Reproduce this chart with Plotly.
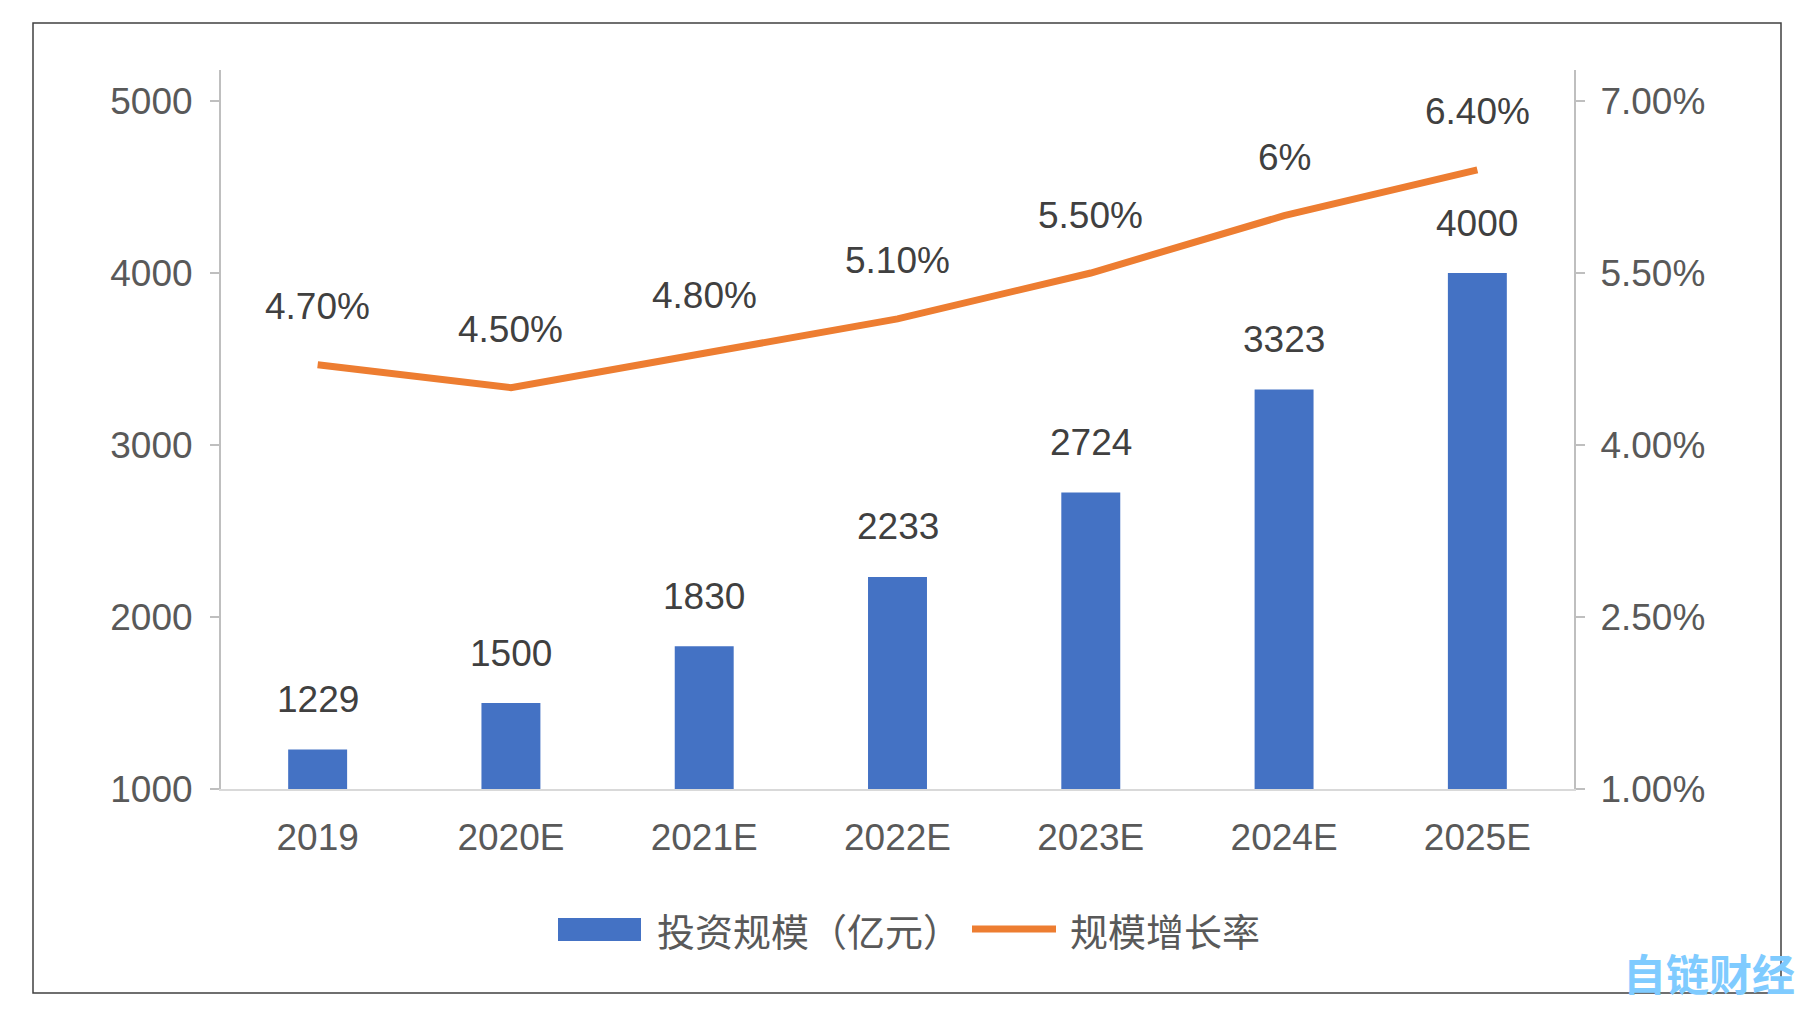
import plotly.graph_objects as go

categories = ["2019", "2020E", "2021E", "2022E", "2023E", "2024E", "2025E"]
invest = [1229, 1500, 1830, 2233, 2724, 3323, 4000]
growth = [0.047, 0.045, 0.048, 0.051, 0.055, 0.060, 0.064]
growth_labels = ["4.70%", "4.50%", "4.80%", "5.10%", "5.50%", "6%", "6.40%"]
left_ticks = [1000, 2000, 3000, 4000, 5000]
right_ticks = [0.01, 0.025, 0.04, 0.055, 0.07]
right_tick_text = ["1.00%", "2.50%", "4.00%", "5.50%", "7.00%"]
legend_names = ["投资规模（亿元）", "规模增长率"]

BLUE = "#4472C4"
ORANGE = "#ED7D31"
NUM_FONT = "Liberation Sans, Arial, sans-serif"
CJK_FONT = "Noto Sans CJK SC, sans-serif"

# page has an 8px body margin; work in page coordinates and convert
OFF = 8
W, H = 1792, 996
PL, PR, PT, PB = 221, 1574, 70, 789          # plot area in page px
L, T = PL - OFF, PT - OFF
R = W - (PR - OFF)
B = H - (PB - OFF)
pw, ph = W - L - R, H - T - B


def px(x):
    return (x - OFF - L) / pw


def py(y):
    return (H - B - (y - OFF)) / ph


fig = go.Figure()
fig.add_trace(go.Bar(x=categories, y=invest, marker=dict(color=BLUE, line=dict(width=0)),
                     width=0.305, name=legend_names[0], yaxis="y"))
fig.add_trace(go.Scatter(x=categories, y=growth, mode="lines", name=legend_names[1],
                         line=dict(color=ORANGE, width=7), yaxis="y2"))

annotations = []
for i, v in enumerate(invest):
    annotations.append(dict(x=i, y=v, xref="x", yref="y", text=str(v), showarrow=False,
                            yshift=50, font=dict(family=NUM_FONT, size=37, color="#404040")))
for i, (v, t) in enumerate(zip(growth, growth_labels)):
    annotations.append(dict(x=i, y=v, xref="x", yref="y2", text=t, showarrow=False,
                            yshift=58, font=dict(family=NUM_FONT, size=37, color="#404040")))

# manual legend (layout elements)
annotations.append(dict(x=px(655), y=py(929), xref="paper", yref="paper", text=legend_names[0],
                        showarrow=False, xanchor="left", yanchor="middle",
                        font=dict(family=CJK_FONT, size=38, color="#595959")))
annotations.append(dict(x=px(1068), y=py(929), xref="paper", yref="paper", text=legend_names[1],
                        showarrow=False, xanchor="left", yanchor="middle",
                        font=dict(family=CJK_FONT, size=38, color="#595959")))
# watermark
annotations.append(dict(x=px(1797), y=py(972), xref="paper", yref="paper", text="<b>自链财经</b>",
                        showarrow=False, xanchor="right", yanchor="middle",
                        font=dict(family=CJK_FONT, size=43, color="#7FCBFF")))

shapes = [
    dict(type="rect", xref="paper", yref="paper", x0=px(33), x1=px(1781), y0=py(23), y1=py(993),
         line=dict(color="#404040", width=1.5), layer="below"),
    dict(type="rect", xref="paper", yref="paper", x0=px(558), x1=px(641), y0=py(941), y1=py(918),
         fillcolor=BLUE, line=dict(width=0)),
    dict(type="line", xref="paper", yref="paper", x0=px(972), x1=px(1056), y0=py(929), y1=py(929),
         line=dict(color=ORANGE, width=7)),
]

ymax = 5000 + 31 / 172 * 1000
y2max = 0.07 + 31 / 172 * 0.015

fig.update_layout(
    width=W, height=H,
    margin=dict(l=L, r=R, t=T, b=B, pad=0),
    paper_bgcolor="white", plot_bgcolor="white",
    showlegend=False,
    annotations=annotations,
    shapes=shapes,
    xaxis=dict(type="category", range=[-0.5, 6.5], showgrid=False, zeroline=False,
               showline=True, linecolor="#D9D9D9", linewidth=2, ticks="",
               tickfont=dict(family=NUM_FONT, size=37, color="#595959"),
               ticklabelstandoff=15),
    yaxis=dict(range=[1000, ymax], tickvals=left_ticks, ticktext=[str(v) for v in left_ticks],
               showgrid=False, zeroline=False, showline=True, linecolor="#BFBFBF", linewidth=2,
               ticks="outside", ticklen=9, tickcolor="#BFBFBF", tickwidth=1.5,
               tickfont=dict(family=NUM_FONT, size=37, color="#595959"),
               ticklabelstandoff=10),
    yaxis2=dict(range=[0.01, y2max], tickvals=right_ticks, ticktext=right_tick_text,
                overlaying="y", side="right", showgrid=False, zeroline=False,
                showline=True, linecolor="#BFBFBF", linewidth=2,
                ticks="outside", ticklen=9, tickcolor="#BFBFBF", tickwidth=1.5,
                tickfont=dict(family=NUM_FONT, size=37, color="#595959"),
                ticklabelstandoff=8),
)

fig.write_html("out.html")
